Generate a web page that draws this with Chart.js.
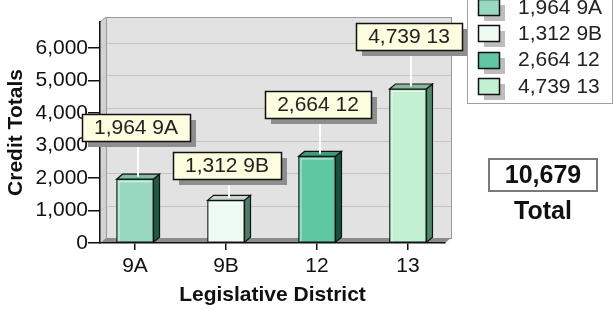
<!DOCTYPE html>
<html>
<head>
<meta charset="utf-8">
<script src="https://cdn.jsdelivr.net/npm/chart.js@4.4.1/dist/chart.umd.min.js"></script>
<style>
  html, body { margin: 0; padding: 0; background: #fff; }
  #wrap { width: 613px; height: 310px; position: relative; }
</style>
</head>
<body>
<div id="wrap"><canvas id="chart" width="613" height="310"></canvas></div>
<script>
const districts = ["9A", "9B", "12", "13"];
const credits = [1964, 1312, 2664, 4739];
const yTicks = [0, 1000, 2000, 3000, 4000, 5000, 6000];

const frontColors = ["#98d8c0", "#eefbf3", "#5ec8a2", "#c2f0d2"];
const topColors = ["#7cbfa5", "#c6d9cf", "#3f9a78", "#86b89a"];
const sideColors = ["#1d5c44", "#4d7c68", "#17533c", "#4a8a68"];

const FONT = "'Liberation Sans', Arial, sans-serif";
const DX = 6, DY = -5; // 3d depth

const fmt = (v) => v.toLocaleString("en-US");

// walls + floor behind the bars
const frame3d = {
  id: "frame3d",
  beforeDraw(chart) {
    const { ctx, chartArea: a, scales } = chart;
    const y = scales.y;
    ctx.save();
    // back wall
    ctx.fillStyle = "#e2e2e2";
    ctx.fillRect(a.left + DX, a.top + DY, a.right - a.left, a.bottom - a.top);
    // left wall
    ctx.fillStyle = "#d2d2d2";
    ctx.beginPath();
    ctx.moveTo(a.left, a.top);
    ctx.lineTo(a.left + DX, a.top + DY);
    ctx.lineTo(a.left + DX, a.bottom + DY);
    ctx.lineTo(a.left, a.bottom);
    ctx.closePath();
    ctx.fill();
    // grid on walls
    ctx.strokeStyle = "#c4c4c4";
    ctx.lineWidth = 1;
    yTicks.forEach((v) => {
      if (v === 0) return;
      const py = Math.round(y.getPixelForValue(v)) + 0.5;
      ctx.beginPath();
      ctx.moveTo(a.left, py);
      ctx.lineTo(a.left + DX, py + DY);
      ctx.lineTo(a.right + DX, py + DY);
      ctx.stroke();
    });
    // wall outline
    ctx.strokeStyle = "#9a9a9a";
    ctx.strokeRect(a.left + DX + 0.5, a.top + DY + 0.5, a.right - a.left, a.bottom - a.top);
    ctx.beginPath();
    ctx.moveTo(a.left, a.top);
    ctx.lineTo(a.left + DX, a.top + DY);
    ctx.stroke();
    // floor
    ctx.fillStyle = "#8c8c8c";
    ctx.beginPath();
    ctx.moveTo(a.left, a.bottom);
    ctx.lineTo(a.left + DX, a.bottom + DY);
    ctx.lineTo(a.right + DX, a.bottom + DY);
    ctx.lineTo(a.right, a.bottom);
    ctx.closePath();
    ctx.fill();
    ctx.restore();
  },
};

// bar tops/sides, leader lines and callout labels
const bars3d = {
  id: "bars3d",
  afterDatasetsDraw(chart) {
    const { ctx } = chart;
    const meta = chart.getDatasetMeta(0);
    ctx.save();
    ctx.lineWidth = 1.2;
    ctx.strokeStyle = "#111";
    meta.data.forEach((bar, i) => {
      const { x, y, base, width } = bar.getProps(["x", "y", "base", "width"], true);
      const x0 = x - width / 2, x1 = x + width / 2;
      ctx.fillStyle = topColors[i];
      ctx.beginPath();
      ctx.moveTo(x0, y);
      ctx.lineTo(x0 + DX, y + DY);
      ctx.lineTo(x1 + DX, y + DY);
      ctx.lineTo(x1, y);
      ctx.closePath();
      ctx.fill();
      ctx.stroke();
      ctx.fillStyle = sideColors[i];
      ctx.beginPath();
      ctx.moveTo(x1, y);
      ctx.lineTo(x1 + DX, y + DY);
      ctx.lineTo(x1 + DX, base + DY);
      ctx.lineTo(x1, base);
      ctx.closePath();
      ctx.fill();
      ctx.stroke();
      // soft highlight inside front face
      ctx.strokeStyle = "rgba(255,255,255,0.55)";
      ctx.beginPath();
      ctx.moveTo(x0 + 2.5, base - 1);
      ctx.lineTo(x0 + 2.5, y + 2.5);
      ctx.lineTo(x1 - 2, y + 2.5);
      ctx.stroke();
      ctx.strokeStyle = "#111";
    });

    // callouts
    ctx.font = "21px " + FONT;
    ctx.textAlign = "center";
    ctx.textBaseline = "middle";
    const boxes = [];
    meta.data.forEach((bar, i) => {
      const { x, y } = bar.getProps(["x", "y"], true);
      const text = fmt(credits[i]) + " " + districts[i];
      const w = Math.round(ctx.measureText(text).width) + 24;
      const h = 27;
      let left = Math.round(x - w / 2) + 1;
      let top = Math.round(y - 52 - h / 2);
      const prev = boxes[boxes.length - 1];
      if (prev &&
          left < prev.left + prev.w + 6 && left + w > prev.left &&
          top < prev.top + prev.h + 6 && top + h > prev.top) {
        top = prev.top + prev.h + 11;
      }
      boxes.push({ left, top, w, h });
      // leader
      ctx.strokeStyle = "#ffffff";
      ctx.lineWidth = 2;
      ctx.beginPath();
      ctx.moveTo(x + DX / 2, y + DY / 2);
      ctx.lineTo(x + DX / 2, top + h);
      ctx.stroke();
      // shadow
      ctx.fillStyle = "#8e8e8e";
      ctx.fillRect(left + 6, top + 6, w, h);
      ctx.fillStyle = "#fdfde0";
      ctx.fillRect(left, top, w, h);
      ctx.strokeStyle = "#111";
      ctx.lineWidth = 1.5;
      ctx.strokeRect(left + 0.5, top + 0.5, w, h);
      ctx.fillStyle = "#222";
      ctx.fillText(text, left + w / 2, top + h / 2 + 1);
    });
    ctx.restore();
  },
};

// legend box and total
const extras = {
  id: "extras",
  afterDraw(chart) {
    const { ctx } = chart;
    ctx.save();
    // legend
    ctx.fillStyle = "#fff";
    ctx.fillRect(467, -10, 145, 113);
    ctx.strokeStyle = "#a0a0a0";
    ctx.lineWidth = 1;
    ctx.strokeRect(467.5, -10, 145, 113.5);
    ctx.font = "21px " + FONT;
    ctx.textAlign = "left";
    ctx.textBaseline = "middle";
    districts.forEach((d, i) => {
      const cy = 7 + i * 26.3;
      const sy = Math.round(cy - 8);
      ctx.fillStyle = "#bdbdbd";
      ctx.fillRect(484, sy + 6, 21, 16);
      ctx.fillStyle = frontColors[i];
      ctx.fillRect(478, sy, 21, 16);
      ctx.strokeStyle = "#111";
      ctx.lineWidth = 1.5;
      ctx.strokeRect(478.5, sy + 0.5, 21, 16);
      ctx.fillStyle = "#222";
      ctx.fillText(fmt(credits[i]) + " " + d, 518, cy + 1);
    });
    // total
    const total = credits.reduce((s, v) => s + v, 0);
    ctx.fillStyle = "#fff";
    ctx.fillRect(489, 159, 108, 32);
    ctx.strokeStyle = "#7a7a7a";
    ctx.lineWidth = 2;
    ctx.strokeRect(489, 159, 108, 32);
    ctx.fillStyle = "#111";
    ctx.textAlign = "center";
    ctx.font = "bold 25px " + FONT;
    ctx.fillText(fmt(total), 543, 176);
    ctx.fillText("Total", 543, 212);
    ctx.restore();
  },
};

Chart.defaults.font.family = FONT;
Chart.defaults.color = "#111";

new Chart(document.getElementById("chart"), {
  type: "bar",
  data: {
    datasets: [
      {
        label: "Credit Totals",
        data: credits.map((v, i) => ({ x: i, y: v })),
        backgroundColor: frontColors,
        borderColor: "#111",
        borderWidth: 1.2,
        borderSkipped: false,
        barThickness: 37,
      },
    ],
  },
  options: {
    responsive: false,
    animation: false,
    layout: { padding: { top: 22, right: 168, left: 0, bottom: 0 } },
    plugins: {
      legend: { display: false },
      tooltip: { enabled: false },
    },
    scales: {
      x: {
        type: "linear",
        offset: false,
        min: -0.385,
        max: 3.407,
        afterFit: (scale) => { scale.height = 67; },
        afterBuildTicks: (scale) => {
          scale.ticks = districts.map((d, i) => ({ value: i }));
        },
        ticks: {
          font: { size: 21 },
          padding: 4,
          callback: (v) => districts[v],
        },
        grid: {
          offset: false,
          drawOnChartArea: false,
          drawTicks: true,
          tickLength: 7,
          color: "#111",
          lineWidth: 1.5,
        },
        border: { color: "#111", width: 1.5 },
        title: {
          display: true,
          text: "Legislative District",
          font: { size: 21, weight: "bold" },
          padding: { top: 0, bottom: 2 },
        },
      },
      y: {
        min: 0,
        max: 6800,
        afterFit: (scale) => { scale.width = 100; },
        afterBuildTicks: (scale) => {
          scale.ticks = yTicks.map((v) => ({ value: v }));
        },
        ticks: {
          font: { size: 21 },
          padding: 0,
          callback: (v) => fmt(v),
        },
        grid: {
          drawOnChartArea: false,
          drawTicks: true,
          tickLength: 12,
          color: "#111",
          lineWidth: 1.5,
        },
        border: { color: "#111", width: 1.5 },
        title: {
          display: true,
          text: "Credit Totals",
          font: { size: 21, weight: "bold" },
          padding: { top: 4, bottom: 4 },
        },
      },
    },
  },
  plugins: [frame3d, bars3d, extras],
});
</script>
</body>
</html>
